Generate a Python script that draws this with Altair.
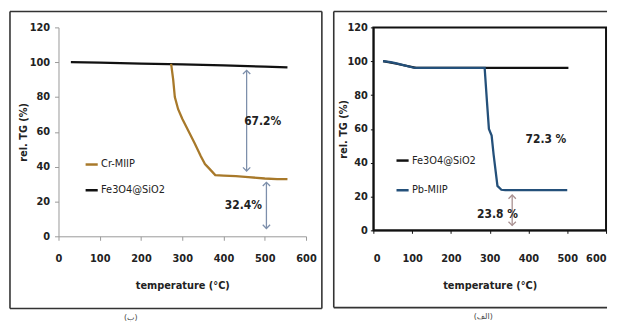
import altair as alt
import pandas as pd

FONT = "Liberation Sans Narrow, DejaVu Sans Condensed, Arial Narrow, sans-serif"

# ---------------- left panel (ب) ----------------
left_series = ["Cr-MIIP", "Fe3O4@SiO2"]
left_colors = ["#a8792a", "#111111"]
left_fe_temp = [30, 100, 200, 300, 400, 500, 555]
left_fe_val = [100, 99.7, 99.2, 98.8, 98.2, 97.4, 97.0]
left_cr_temp = [273, 278, 282, 290, 300, 315, 330, 345, 355, 365, 380, 400, 430, 460, 500, 530, 555]
left_cr_val = [99, 90, 80, 73, 67.5, 60.5, 53.5, 46, 41.5, 39, 35.2, 34.9, 34.6, 34.0, 33.2, 32.9, 32.8]
left_arrow_temp = [456, 504]
left_arrow_top = [95.3, 31.0]
left_arrow_bottom = [37.5, 4.5]
left_note_temp = [495, 448]
left_note_val = [66, 18.2]
left_note_text = ["67.2%", "32.4%"]
left_caption = "(ب)"

# ---------------- right panel (الف) ----------------
right_series = ["Fe3O4@SiO2", "Pb-MIIP"]
right_colors = ["#111111", "#24507a"]
right_fe_temp = [25, 60, 110, 200, 290, 400, 503]
right_fe_val = [100, 98.5, 96, 96, 96, 96, 96]
right_pb_temp = [25, 45, 60, 80, 107, 200, 287, 293, 298, 305, 310, 320, 330, 340, 400, 500]
right_pb_val = [100, 99.5, 98.7, 97.5, 96, 96, 96, 76, 60, 56, 45, 26.3, 24, 23.8, 23.8, 23.8]
right_arrow_temp = [358]
right_arrow_top = [20.9]
right_arrow_bottom = [2.9]
right_note_temp = [445, 320]
right_note_val = [53.7, 9.8]
right_note_text = ["72.3 %", "23.8 %"]
right_caption = "(الف)"

x_ticks = [0, 100, 200, 300, 400, 500, 600]
y_ticks = [0, 20, 40, 60, 80, 100, 120]

UP = "M -1 1 L 0 0 L 1 1"
DOWN = "M -1 -1 L 0 0 L 1 -1"
FRAME = "#333333"


def frame_layers(x1, x2, y1, y2, right_edge):
    one = pd.DataFrame({"a": [0]})
    base = alt.Chart(one)
    style = dict(color=FRAME, strokeWidth=1.6)
    parts = [
        base.mark_rule(**style).encode(x=alt.value(x1), x2=alt.value(x2), y=alt.value(y1)),
        base.mark_rule(**style).encode(x=alt.value(x1), x2=alt.value(x2), y=alt.value(y2)),
        base.mark_rule(**style).encode(x=alt.value(x1), y=alt.value(y1), y2=alt.value(y2)),
    ]
    if right_edge:
        parts.append(base.mark_rule(**style).encode(x=alt.value(x2), y=alt.value(y1), y2=alt.value(y2)))
    return parts


def panel(series, colors, s1, s2, arrow, notes, caption, arrow_color,
          w, h, frame, caption_x, legend_xy, row_pad, axis_style, boxed):
    X = alt.X("t:Q", scale=alt.Scale(domain=[0, 600], nice=False),
              axis=alt.Axis(values=x_ticks, title="temperature (°C)", grid=False,
                            labelFlush=axis_style["flush"],
                            labelFont=FONT, labelFontWeight="bold", labelFontSize=11,
                            labelColor="#222", titleFont=FONT, titleFontWeight="bold",
                            titleFontSize=11, titleColor="#222",
                            tickSize=axis_style["tick"], labelPadding=axis_style["xlp"],
                            titlePadding=axis_style["xtp"],
                            domainColor=axis_style["dc"], tickColor=axis_style["dc"],
                            domainWidth=axis_style["dw"]))
    y_axis_kw = dict(values=y_ticks, title="rel. TG (%)", grid=False,
                     labelFont=FONT, labelFontWeight="bold", labelFontSize=11,
                     labelColor="#222", titleFont=FONT, titleFontWeight="bold",
                     titleFontSize=11, titleColor="#222",
                     tickSize=axis_style["tick"], labelPadding=axis_style["ylp"],
                     titlePadding=axis_style["ytp"],
                     domainColor=axis_style["dc"], tickColor=axis_style["dc"],
                     domainWidth=axis_style["dw"])
    if "tx" in axis_style:
        y_axis_kw["titleX"] = axis_style["tx"]
    Y = alt.Y("v:Q", scale=alt.Scale(domain=[0, 120], nice=False), axis=alt.Axis(**y_axis_kw))
    C = alt.Color("s:N", scale=alt.Scale(domain=series, range=colors), title=None,
                  legend=alt.Legend(orient="none", legendX=legend_xy[0], legendY=legend_xy[1],
                                    symbolType="stroke", symbolSize=150, symbolStrokeWidth=2.5,
                                    labelFont=FONT, labelFontSize=11, labelColor="#222",
                                    rowPadding=row_pad, labelOffset=2, padding=0))

    d1 = pd.DataFrame({"t": s1[0], "v": s1[1], "s": s1[2]})
    d2 = pd.DataFrame({"t": s2[0], "v": s2[1], "s": s2[2]})
    one = pd.DataFrame({"a": [0]})

    l1 = alt.Chart(d1).mark_line(strokeWidth=2.3).encode(x=X, y=Y, color=C)
    l2 = alt.Chart(d2).mark_line(strokeWidth=2.3).encode(x=X, y=Y, color=C)

    ad = pd.DataFrame({"t": arrow[0], "v": arrow[1], "v2": arrow[2]})
    rule = alt.Chart(ad).mark_rule(color=arrow_color, strokeWidth=1.3).encode(
        x=X, y=Y, y2="v2:Q")
    head_up = alt.Chart(ad).mark_point(shape=UP, filled=False, stroke=arrow_color,
                                       strokeWidth=1.3, size=55, opacity=1).encode(x=X, y=Y)
    hd = pd.DataFrame({"t": arrow[0], "v": arrow[2]})
    head_dn = alt.Chart(hd).mark_point(shape=DOWN, filled=False, stroke=arrow_color,
                                       strokeWidth=1.3, size=55, opacity=1).encode(x=X, y=Y)

    nd = pd.DataFrame({"t": notes[0], "v": notes[1], "label": notes[2]})
    txt = alt.Chart(nd).mark_text(font=FONT, fontSize=12, color="#222",
                                  fontWeight="bold").encode(x=X, y=Y, text="label:N")

    cap = alt.Chart(one).mark_text(font="DejaVu Sans", fontSize=8, color="#444").encode(
        x=alt.value(caption_x), y=alt.value(frame[3] + 10), text=alt.value(caption))

    fr = frame_layers(frame[0], frame[1], frame[2], frame[3], not boxed)
    layers = alt.layer(*fr, l1, l2, rule, head_up, head_dn, txt, cap)
    if boxed:
        return layers.properties(width=w, height=h,
                                 view=alt.ViewBackground(stroke="#111", strokeWidth=2))
    return layers.properties(width=w, height=h)


left = panel(left_series, left_colors,
             (left_fe_temp, left_fe_val, "Fe3O4@SiO2"),
             (left_cr_temp, left_cr_val, "Cr-MIIP"),
             (left_arrow_temp, left_arrow_top, left_arrow_bottom),
             (left_note_temp, left_note_val, left_note_text),
             left_caption, "#7d8fab",
             250, 211, (-49, 266, -16, 284), 73, (26, 131), 13,
             {"tick": 4, "xlp": 12, "xtp": 17, "ylp": 5, "ytp": 1, "dc": "#999", "dw": 1,
              "flush": False},
             False)

right = panel(right_series, right_colors,
              (right_fe_temp, right_fe_val, "Fe3O4@SiO2"),
              (right_pb_temp, right_pb_val, "Pb-MIIP"),
              (right_arrow_temp, right_arrow_top, right_arrow_bottom),
              (right_note_temp, right_note_val, right_note_text),
              right_caption, "#a89090",
              235, 205, (-40, 236, -16, 283), 111, (22, 127), 17,
              {"tick": 3, "xlp": 19, "xtp": 17, "ylp": 3, "ytp": 0, "dc": "#111", "dw": 1.5,
               "flush": True, "tx": -25},
              True)

chart = alt.hconcat(left, right, spacing=8).resolve_scale(color="independent").properties(
    padding={"left": 0, "top": 0, "right": 0, "bottom": 0},
    background="white",
).configure_view(stroke="transparent")

chart.save("out.html", embed_options={"renderer": "svg", "actions": False})
